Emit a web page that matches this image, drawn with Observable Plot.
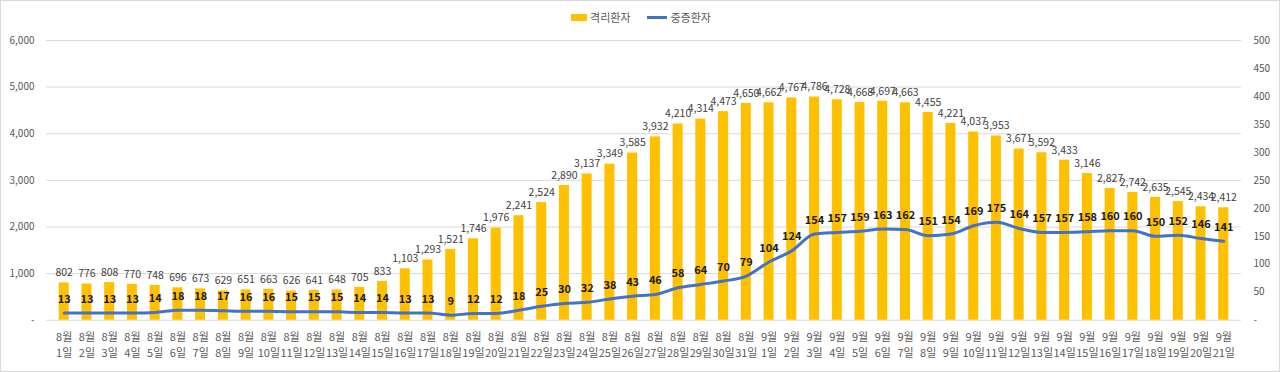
<!DOCTYPE html>
<html><head><meta charset="utf-8">
<script src="https://cdn.jsdelivr.net/npm/d3@7"></script>
<script src="https://cdn.jsdelivr.net/npm/@observablehq/plot@0.6"></script>
<style>
html,body{margin:0;padding:0;background:#fff;}
#wrap{position:relative;width:1280px;height:372px;box-sizing:border-box;border:1px solid #d9d9d9;overflow:hidden;font-family:"Noto Sans CJK KR","Malgun Gothic",sans-serif;}
#legend{position:absolute;top:8px;left:0;width:1280px;display:flex;justify-content:center;align-items:center;font-size:11px;color:#595959;gap:0;}
.item{display:flex;align-items:center;margin:0 8px;}
.sw{display:inline-block;width:16px;height:7px;background:#FFC000;margin-right:3px;}
.ln{display:inline-block;width:20px;height:3px;background:#4472C4;margin-right:4px;}
#chart{position:absolute;left:-1px;top:-1px;}
</style></head>
<body>
<div id="wrap">
<div id="chart"></div>
<div id="legend"><span class="item"><span class="sw"></span>격리환자</span><span class="item"><span class="ln"></span>중증환자</span></div>
</div>
<script>
const months = [...Array(31).fill(8), ...Array(21).fill(9)];
const days = [...d3.range(1, 32), ...d3.range(1, 22)];
const isolated = [802,776,808,770,748,696,673,629,651,663,626,641,648,705,833,1103,1293,1521,1746,1976,2241,2524,2890,3137,3349,3585,3932,4210,4314,4473,4650,
  4662,4767,4786,4728,4668,4697,4663,4455,4221,4037,3953,3671,3592,3433,3146,2827,2742,2635,2545,2434,2412];
const severe = [13,13,13,13,14,18,18,17,16,16,15,15,15,14,14,13,13,9,12,12,18,25,30,32,38,43,46,58,64,70,79,
  104,124,154,157,159,163,162,151,154,169,175,164,157,157,158,160,160,150,152,146,141];
const leftTicks = [0,1000,2000,3000,4000,5000,6000];
const rightTicks = [0,50,100,150,200,250,300,350,400,450,500];
const ratio = 6000 / 500;

const data = months.map((m, i) => ({key: `${m}-${days[i]}`, m, d: days[i], iso: isolated[i], sev: severe[i]}));
const font = '"Noto Sans CJK KR","Malgun Gothic",sans-serif';

const chart = Plot.plot({
  width: 1280, height: 372,
  marginLeft: 46, marginRight: 38, marginTop: 40, marginBottom: 52,
  style: {fontFamily: font, background: "transparent"},
  x: {type: "band", domain: data.map(d => d.key), padding: 0.56, axis: null},
  y: {domain: [0, 6000], axis: null},
  marks: [
    Plot.ruleY(leftTicks, {stroke: "#d9d9d9", strokeWidth: 1}),
    Plot.barY(data, {x: "key", y: "iso", fill: "#FFC000"}),
    Plot.line(data, {x: "key", y: d => d.sev * ratio, stroke: "#4472C4", strokeWidth: 3, curve: "monotone-x"}),
    Plot.text(data, {x: "key", y: "iso", text: d => d3.format(",")(d.iso), dy: -10, fontSize: 10.5, fill: "#404040"}),
    Plot.text(data, {x: "key", y: d => d.sev * ratio, text: d => String(d.sev), dy: -14, fontSize: 11, fontWeight: "bold", fill: "#1a1a1a"}),
    Plot.axisY(leftTicks, {anchor: "left", tickSize: 0, tickPadding: 12, fontSize: 10, color: "#595959", tickFormat: d => d === 0 ? "-" : d3.format(",")(d), label: null}),
    Plot.axisY(rightTicks.map(v => v * ratio), {anchor: "right", tickSize: 0, tickPadding: 12, fontSize: 10, color: "#595959", tickFormat: d => d === 0 ? "-" : String(d / ratio), label: null}),
    Plot.axisX(data.map(d => d.key), {tickSize: 0, tickPadding: 10, fontSize: 11, color: "#595959", lineHeight: 1.4, tickFormat: k => { const [m, d] = k.split("-"); return `${m}월\n${d}일`; }, label: null})
  ]
});
document.getElementById("chart").appendChild(chart);
</script>
</body></html>
